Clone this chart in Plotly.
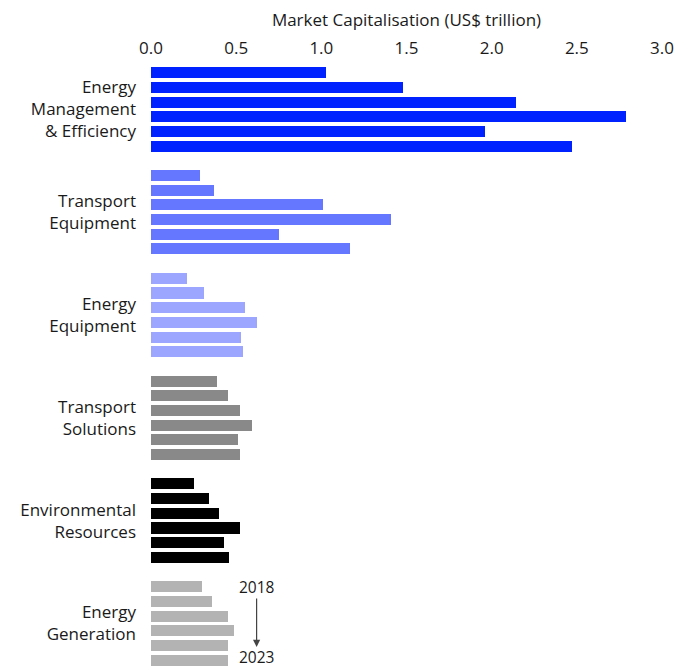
import plotly.graph_objects as go

# Market capitalisation by segment, US$ trillion, years 2018..2023
categories = [
    "Energy<br>Management<br>& Efficiency",
    "Transport<br>Equipment",
    "Energy<br>Equipment",
    "Transport<br>Solutions",
    "Environmental<br>Resources",
    "Energy<br>Generation",
]
years = [2018, 2019, 2020, 2021, 2022, 2023]
energy_mgmt = [1.03, 1.48, 2.14, 2.79, 1.96, 2.47]
transport_equipment = [0.29, 0.37, 1.01, 1.41, 0.75, 1.17]
energy_equipment = [0.21, 0.31, 0.55, 0.62, 0.53, 0.54]
transport_solutions = [0.39, 0.45, 0.52, 0.59, 0.51, 0.52]
environmental_resources = [0.25, 0.34, 0.40, 0.52, 0.43, 0.46]
energy_generation = [0.30, 0.36, 0.45, 0.49, 0.45, 0.45]
series = [energy_mgmt, transport_equipment, energy_equipment,
          transport_solutions, environmental_resources, energy_generation]
colors = ["#0022FF", "#6677FF", "#9CA6FF", "#898989", "#000000", "#B3B3B3"]

x_ticks = [0.0, 0.5, 1.0, 1.5, 2.0, 2.5, 3.0]

GROUP_STEP = 7  # six bars plus one empty slot between groups

fig = go.Figure()
for g, (vals, col) in enumerate(zip(series, colors)):
    fig.add_trace(go.Bar(
        x=vals,
        y=[g * GROUP_STEP + i for i in range(len(years))],
        orientation="h",
        marker=dict(color=col, line=dict(width=0)),
        width=0.75,
        showlegend=False,
        hoverinfo="x",
    ))

last = len(categories) - 1
y_first = last * GROUP_STEP
y_last = last * GROUP_STEP + len(years) - 1
fig.add_annotation(x=0.62, y=y_first, text=str(years[0]), showarrow=False,
                   xref="x", yref="y", font=dict(size=15.5, color="#1a1a1a"))
fig.add_annotation(x=0.62, y=y_last, text=str(years[-1]), showarrow=False,
                   xref="x", yref="y", yshift=3, borderpad=0,
                   font=dict(size=15.5, color="#1a1a1a"))
fig.add_annotation(x=0.62, y=y_last - 0.9, ax=0.62, ay=y_first + 0.7,
                   axref="x", ayref="y", xref="x", yref="y", text="",
                   showarrow=True, arrowhead=2, arrowsize=1.2, arrowwidth=1.2,
                   arrowcolor="#444")

fig.update_layout(
    width=696, height=669,
    margin=dict(l=151, r=34, t=58, b=0),
    paper_bgcolor="white", plot_bgcolor="white",
    font=dict(family="Open Sans", size=16, color="#1a1a1a"),
    bargap=0,
    xaxis=dict(
        side="top", range=[0, 3.0], tickvals=x_ticks,
        ticktext=[f"{v:.1f}" for v in x_ticks],
        showgrid=False, zeroline=False, showline=False, ticks="",
        tickfont=dict(size=17),
        ticklabelstandoff=0,
        title=dict(text="Market Capitalisation (US$ trillion)", font=dict(size=17),
                   standoff=4),
    ),
    yaxis=dict(
        range=[40.6, -1.0],
        tickvals=[g * GROUP_STEP + 2.5 for g in range(len(categories))],
        ticktext=categories,
        showgrid=False, zeroline=False, showline=False, ticks="",
        tickfont=dict(size=17),
        ticklabelstandoff=14,
    ),
)

fig.write_html("out.html")
